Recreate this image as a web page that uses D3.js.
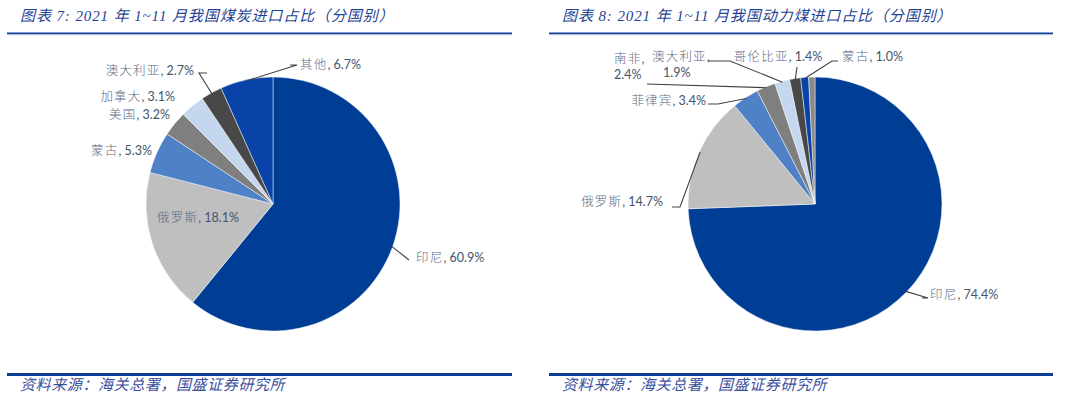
<!DOCTYPE html>
<html>
<head>
<meta charset="utf-8">
<script src="https://cdn.jsdelivr.net/npm/d3@7"></script>
<style>
	body { margin: 0; background: #fff; }
	svg { display: block; }
	.title { font-family: "Liberation Serif", "Noto Sans CJK SC", serif; font-style: italic; font-size: 15px; fill: #1f4394; letter-spacing: 0.9px; }
	.source { font-family: "Liberation Serif", "Noto Sans CJK SC", serif; font-style: italic; font-size: 15px; fill: #3b4f9c; letter-spacing: 0.6px; }
	.lbl { font-family: "Lato", "Noto Sans CJK SC", sans-serif; font-size: 12.5px; fill: #44546a; }
	.lbl .nm { fill: #5d6b85; font-weight: 300; letter-spacing: 1.2px; }
	.leader { fill: none; stroke: #404040; stroke-width: 1.1; }
</style>
</head>
<body>
<svg id="chart" width="1080" height="395"></svg>
<script>
// ---- data ----
const titles = ["图表 7:  2021 年 1~11 月我国煤炭进口占比（分国别）",
	"图表 8:  2021 年 1~11 月我国动力煤进口占比（分国别）"];
const sourceText = "资料来源：海关总署，国盛证券研究所";

const coalNames = ["印尼", "俄罗斯", "蒙古", "美国", "加拿大", "澳大利亚", "其他"];
const coalShare = [60.9, 18.1, 5.3, 3.2, 3.1, 2.7, 6.7];

const steamNames = ["印尼", "俄罗斯", "菲律宾", "南非", "澳大利亚", "哥伦比亚", "蒙古", ""];
const steamShare = [74.4, 14.7, 3.4, 2.4, 1.9, 1.4, 1.0, 0.8];

const palette = ["#003e95", "#bfbfbf", "#4f81c6", "#7f7f7f", "#c5d6ef", "#484848", "#0a43a8", "#8a8a8a"];

// ---- label layout (relative to pie centre) ----
// t: text anchor point, x2: x of the second row (two-row labels), e: leader elbows
const coalLayout = [
	{ t: [143, 55], anchor: "start", e: [[136, 56]] },
	{ t: [-75, 15], anchor: "middle", e: null },
	{ t: [-121, -52], anchor: "end", e: null },
	{ t: [-103, -88], anchor: "end", e: null },
	{ t: [-98, -106], anchor: "end", e: null },
	{ t: [-79, -132], anchor: "end", e: [[-74, -131], [-66, -131]] },
	{ t: [27, -138], anchor: "start", e: [[24, -139], [17, -139]] }
];
const steamLayout = [
	{ t: [115, 92], anchor: "start", e: [[113, 94], [107, 94]] },
	{ t: [-152, -1], anchor: "end", e: [[-135, 3], [-143, 3]] },
	{ t: [-109, -102], anchor: "end", e: [[-97, -100], [-107, -100]] },
	{ t: [-201, -144], anchor: "start", x2: -201, e: [[-168, -120]] },
	{ t: [-163, -146], anchor: "start", x2: -152, e: [[-85, -143], [-107, -143]] },
	{ t: [-37, -146], anchor: "middle", e: [[-18, -137]] },
	{ t: [27, -146], anchor: "start", e: [[17, -143], [23, -143]] },
	null
];

const svg = d3.select("#chart");

function panel(x0, x1, title) {
	svg.append("text").attr("class", "title")
		.attr("x", x0 + 13).attr("y", 21).text(title);
	svg.append("rect").attr("x", x0).attr("y", 32.5)
		.attr("width", x1 - x0).attr("height", 2).attr("fill", "#0c3e96");
	svg.append("rect").attr("x", x0).attr("y", 34.5)
		.attr("width", x1 - x0).attr("height", 1).attr("fill", "#dfe3ec");
	svg.append("rect").attr("x", x0).attr("y", 373)
		.attr("width", x1 - x0).attr("height", 3).attr("fill", "#0c3e96");
	svg.append("text").attr("class", "source")
		.attr("x", x0 + 13).attr("y", 390).text(sourceText);
}

function drawPie(cx, cy, r, names, values, layout) {
	const g = svg.append("g").attr("transform", `translate(${cx},${cy})`);
	const pie = d3.pie().sort(null).value(d => d)(values);
	const arc = d3.arc().innerRadius(0).outerRadius(r);

	g.selectAll("path.slice").data(pie).enter()
		.append("path").attr("class", "slice")
		.attr("d", arc)
		.attr("fill", (d, i) => palette[i])
		.attr("stroke", "#ffffff").attr("stroke-width", 0.8).attr("stroke-opacity", 0.6);

	pie.forEach((d, i) => {
		const L = layout[i];
		if (!L || !names[i]) return;
		if (L.e) {
			const a = (d.startAngle + d.endAngle) / 2;
			const p0 = [(r - 1) * Math.sin(a), -(r - 1) * Math.cos(a)];
			g.append("path").attr("class", "leader")
				.attr("d", d3.line()([p0, ...L.e]));
		}
		const pct = d3.format(".1f")(values[i]) + "%";
		const t = g.append("text").attr("class", "lbl")
			.attr("x", L.t[0]).attr("y", L.t[1])
			.attr("text-anchor", L.anchor)
			.attr("dominant-baseline", "middle");
		t.append("tspan").attr("class", "nm").text(names[i]);
		if (L.x2 !== undefined) {
			t.append("tspan").text(",");
			t.append("tspan").attr("x", L.x2).attr("dy", 16).text(pct);
		} else {
			t.append("tspan").text(", " + pct);
		}
	});
}

panel(7, 512, titles[0]);
panel(549, 1053, titles[1]);

drawPie(273, 204, 127, coalNames, coalShare, coalLayout);
drawPie(815, 204, 127, steamNames, steamShare, steamLayout);
</script>
</body>
</html>
